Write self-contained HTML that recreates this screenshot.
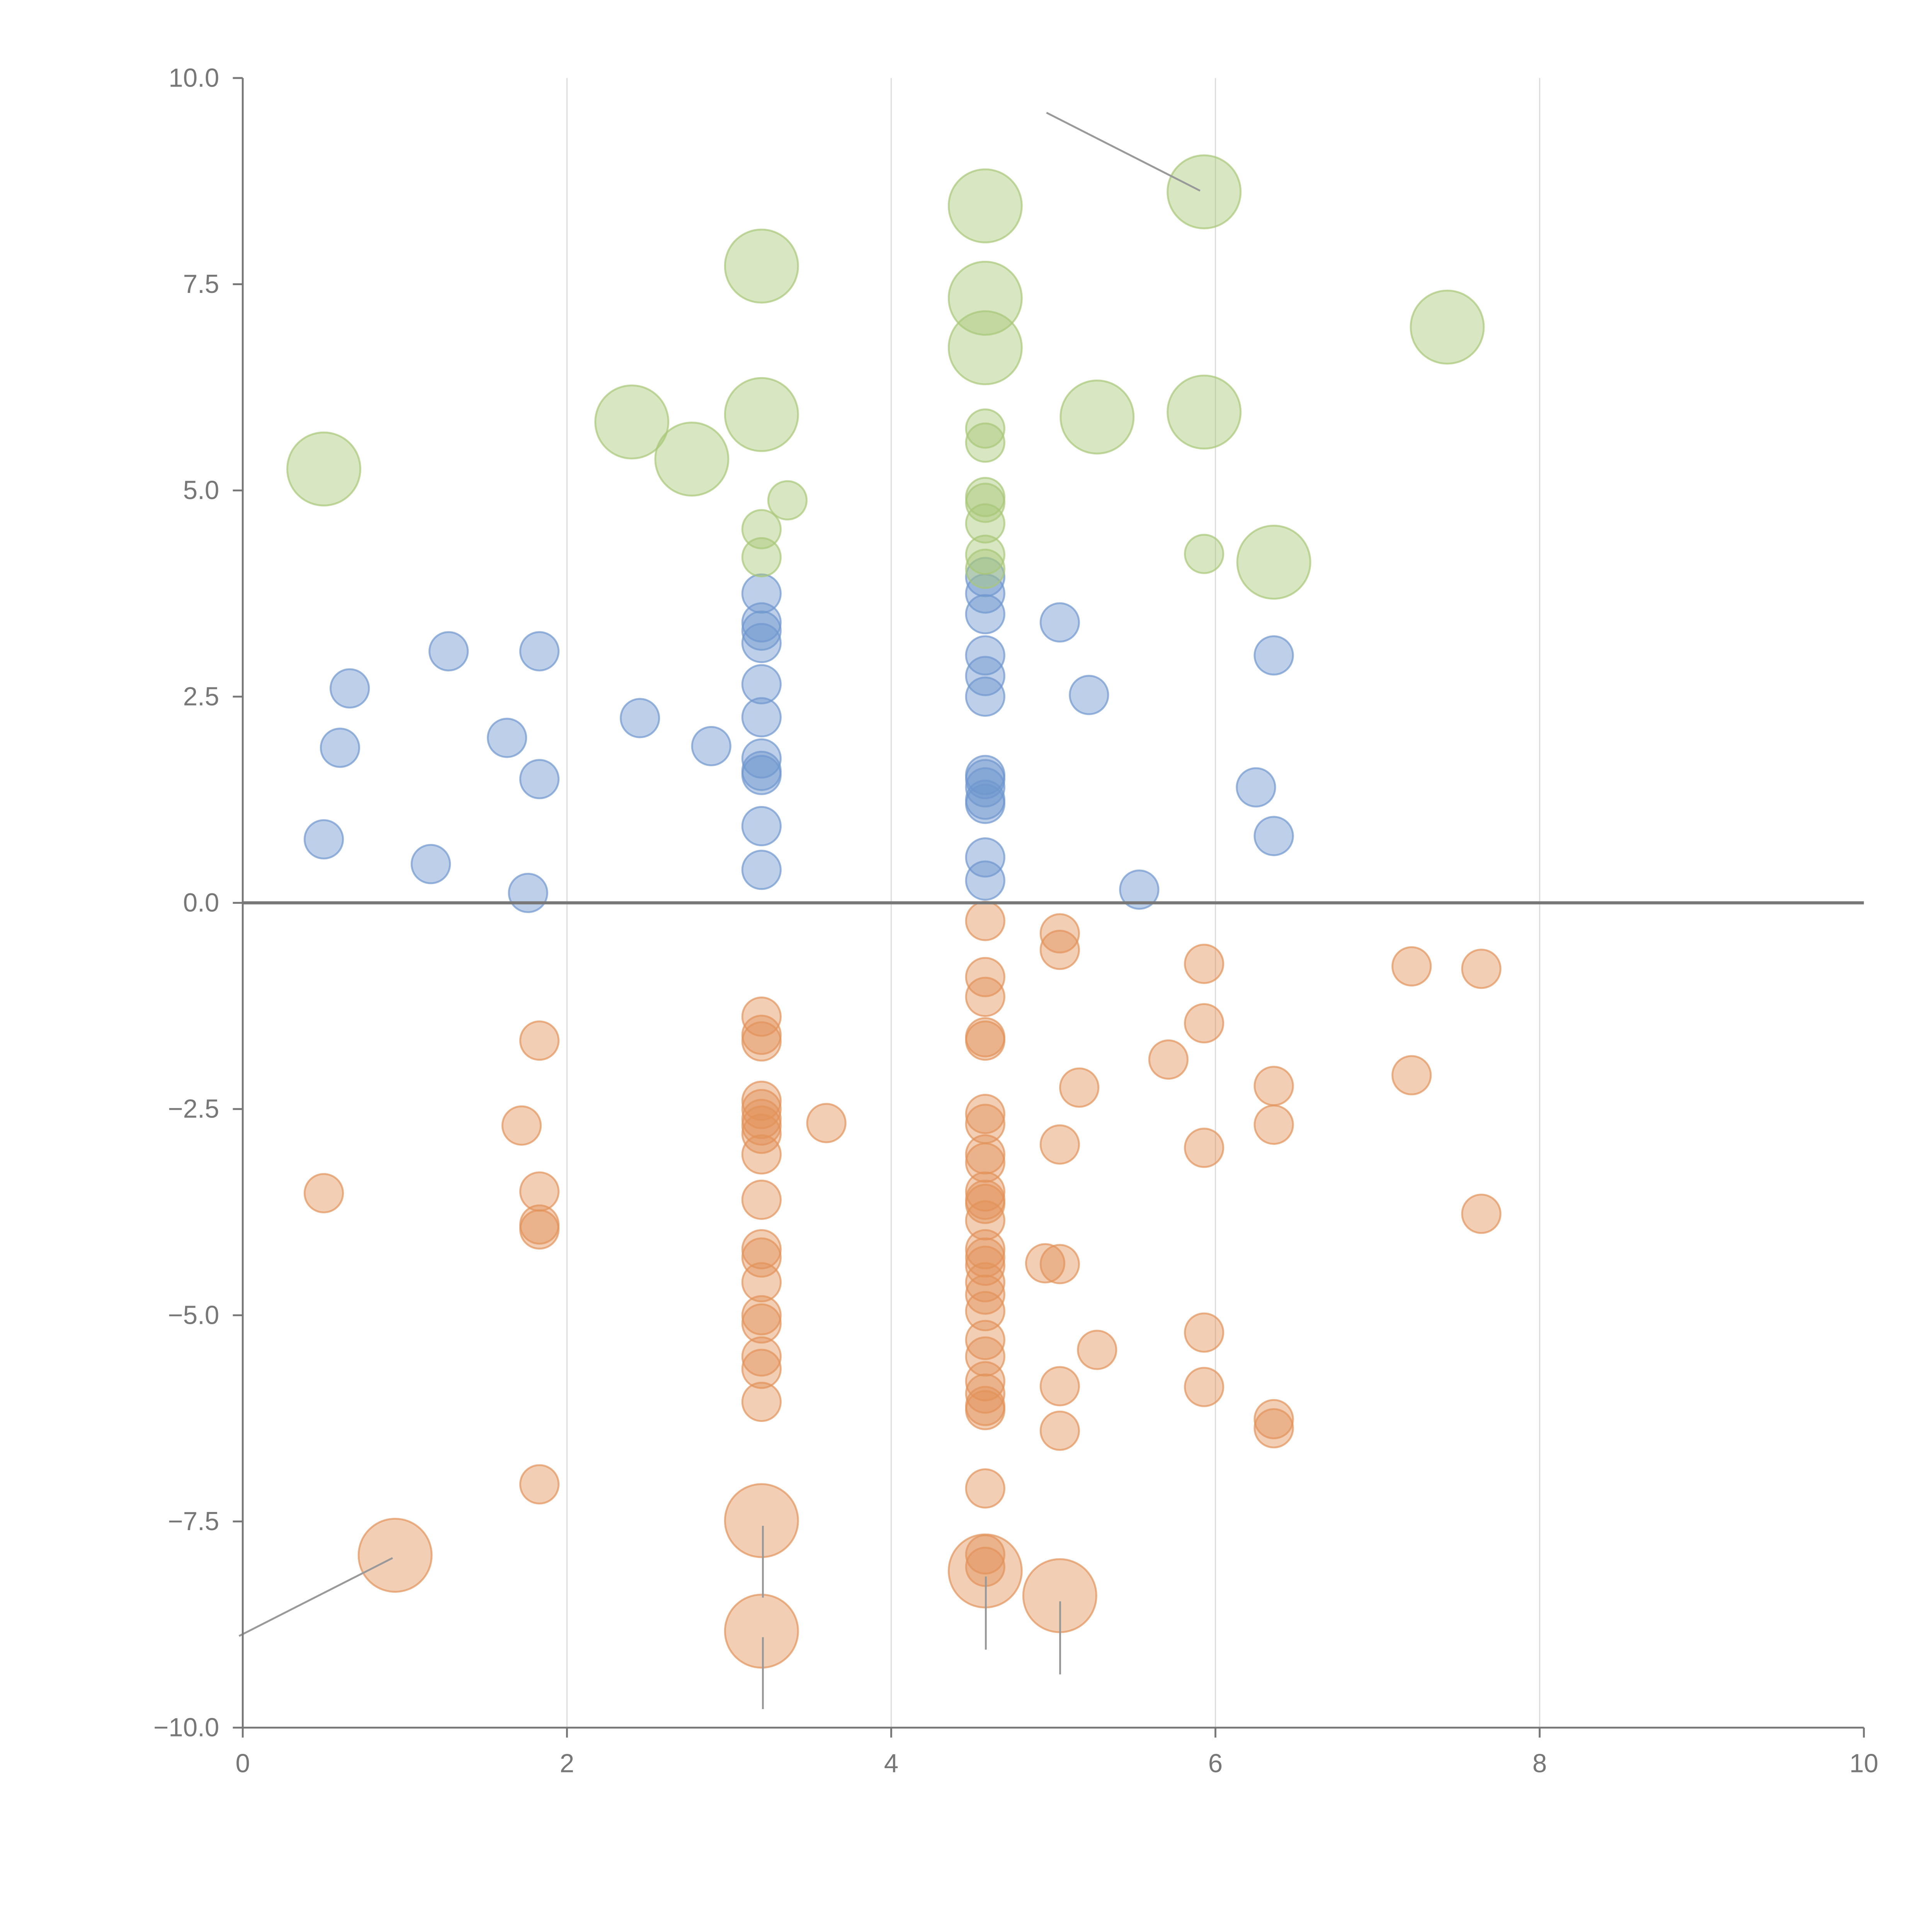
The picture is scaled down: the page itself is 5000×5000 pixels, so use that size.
<!DOCTYPE html>
<html><head><meta charset="utf-8">
<style>
html,body{margin:0;padding:0;background:#fff;}
svg{display:block;font-family:"Liberation Sans",sans-serif;}
</style></head>
<body>
<svg id="chart" width="5000" height="5000" viewBox="0 0 1560 1560" xmlns="http://www.w3.org/2000/svg">
<g id="grid"></g>
<g id="marks"></g>
<g id="axes"></g>
</svg>
<script>
const xTicks=[0,2,4,6,8,10];
const yTicks=[-10,-7.5,-5,-2.5,0,2.5,5,7.5,10];
const blueX=[0.5,0.66,0.6,1.16,1.27,1.63,1.76,1.83,1.83,2.45,2.89,3.2,3.2,3.2,3.2,3.2,3.2,3.2,3.2,3.2,3.2,3.2,4.58,4.58,4.58,4.58,4.58,4.58,4.58,4.58,4.58,4.58,4.58,4.58,4.58,5.04,5.22,5.53,6.25,6.36,6.36];
const blueY=[0.77,2.6,1.88,0.47,3.05,2.0,0.12,3.05,1.5,2.24,1.9,3.75,3.4,3.3,3.15,2.65,2.25,1.75,1.6,1.55,0.93,0.4,3.95,3.75,3.5,3.0,2.75,2.5,1.55,1.5,1.4,1.25,1.2,0.55,0.27,3.4,2.52,0.16,1.4,3.0,0.81];
const orangeX=[0.5,1.72,1.83,1.83,1.83,1.83,1.83,3.2,3.2,3.2,3.2,3.2,3.2,3.2,3.2,3.2,3.2,3.2,3.2,3.2,3.2,3.2,3.2,3.2,3.2,3.6,4.58,4.58,4.58,4.58,4.58,4.58,4.58,4.58,4.58,4.58,4.58,4.58,4.58,4.58,4.58,4.58,4.58,4.58,4.58,4.58,4.58,4.58,4.58,4.58,4.58,4.58,4.58,4.58,4.95,5.04,5.04,5.04,5.04,5.04,5.04,5.16,5.27,5.71,5.93,5.93,5.93,5.93,5.93,6.36,6.36,6.36,6.36,7.21,7.21,7.64,7.64];
const orangeY=[-3.52,-2.7,-1.67,-3.5,-3.9,-3.96,-7.05,-1.38,-1.6,-1.68,-2.4,-2.5,-2.62,-2.7,-2.8,-3.05,-3.6,-4.2,-4.3,-4.6,-5.0,-5.1,-5.5,-5.65,-6.05,-2.67,-0.22,-0.9,-1.14,-1.63,-1.67,-2.56,-2.68,-3.05,-3.15,-3.5,-3.6,-3.65,-3.85,-4.2,-4.3,-4.4,-4.6,-4.75,-4.95,-5.3,-5.5,-5.8,-5.95,-6.1,-6.15,-7.1,-7.9,-8.05,-4.37,-0.37,-0.57,-2.93,-4.38,-5.86,-6.4,-2.24,-5.42,-1.9,-0.74,-1.46,-2.97,-5.21,-5.87,-2.22,-2.69,-6.26,-6.37,-0.77,-2.09,-0.8,-3.77];
const orangeBigX=[0.94,3.2,3.2,4.58,5.04];
const orangeBigY=[-7.91,-7.49,-8.83,-8.1,-8.4];
const greenBigX=[0.5,2.4,2.77,3.2,3.2,4.58,4.58,4.58,5.27,5.93,5.93,6.36,7.43];
const greenBigY=[5.26,5.83,5.38,7.72,5.92,8.45,7.33,6.73,5.89,8.62,5.95,4.13,6.98];
const greenX=[3.36,3.2,3.2,4.58,4.58,4.58,4.58,4.58,4.58,4.58,5.93];
const greenY=[4.88,4.53,4.19,5.75,5.58,4.92,4.85,4.6,4.22,4.05,4.23];

const NS="http://www.w3.org/2000/svg";
const X0=196,X1=1505,Y0=1395,Y1=63;
const sx=v=>X0+(v-0)/(10-0)*(X1-X0);
const sy=v=>Y0-(v+10)/20*(Y0-Y1);
function mk(tag,attrs,parent){const e=document.createElementNS(NS,tag);for(const k in attrs)e.setAttribute(k,attrs[k]);parent.appendChild(e);return e;}
const grid=document.getElementById('grid'),marks=document.getElementById('marks'),axes=document.getElementById('axes');
[2,4,6,8].forEach(v=>{const l=mk('line',{x1:sx(v),x2:sx(v),y1:Y1,y2:Y0,stroke:'#ddd','stroke-width':1},grid);

});
function series(xs,ys,r,color,name){xs.forEach((x,i)=>{const c=mk('circle',{cx:sx(x),cy:sy(ys[i]),r:r,fill:color,'fill-opacity':0.45,stroke:color,'stroke-opacity':0.7,'stroke-width':1.5},marks);

});}
series(blueX,blueY,15.5,'#6f97cf','blue-bubble');
series(orangeX,orangeY,15.5,'#e3935a','orange-bubble');
series(orangeBigX,orangeBigY,29.5,'#e3935a','orange-large-bubble');
series(greenX,greenY,15.5,'#a8c878','green-bubble');
series(greenBigX,greenBigY,29.5,'#a8c878','green-large-bubble');
[[845,91,969,154],[193,1321,317,1258],[616,1232,616,1290],[616,1322,616,1380],[796,1273,796,1332],[856,1293,856,1352]].forEach(p=>{const l=mk('line',{x1:p[0],y1:p[1],x2:p[2],y2:p[3],stroke:'#999','stroke-width':1.5},marks);

});
const la=mk('line',{x1:X0,x2:X0,y1:Y1,y2:Y0,stroke:'#777','stroke-width':1.5},axes);


const ba=mk('line',{x1:X0,x2:X1,y1:Y0,y2:Y0,stroke:'#777','stroke-width':1.5},axes);


const zl=mk('line',{x1:X0,x2:X1,y1:sy(0),y2:sy(0),stroke:'#777','stroke-width':2.5},axes);


yTicks.forEach(v=>{const t=mk('line',{x1:X0-8,x2:X0,y1:sy(v),y2:sy(v),stroke:'#777','stroke-width':1.5},axes);


const tx=mk('text',{x:X0-19,y:sy(v)+7,'text-anchor':'end','font-size':21,fill:'#777'},axes);tx.textContent=v.toFixed(1).replace('-','\u2212');

});
xTicks.forEach(v=>{const t=mk('line',{x1:sx(v),x2:sx(v),y1:Y0,y2:Y0+8,stroke:'#777','stroke-width':1.5},axes);


const tx=mk('text',{x:sx(v),y:Y0+36,'text-anchor':'middle','font-size':21,fill:'#777'},axes);tx.textContent=String(v);

});
</script>
</body></html>
